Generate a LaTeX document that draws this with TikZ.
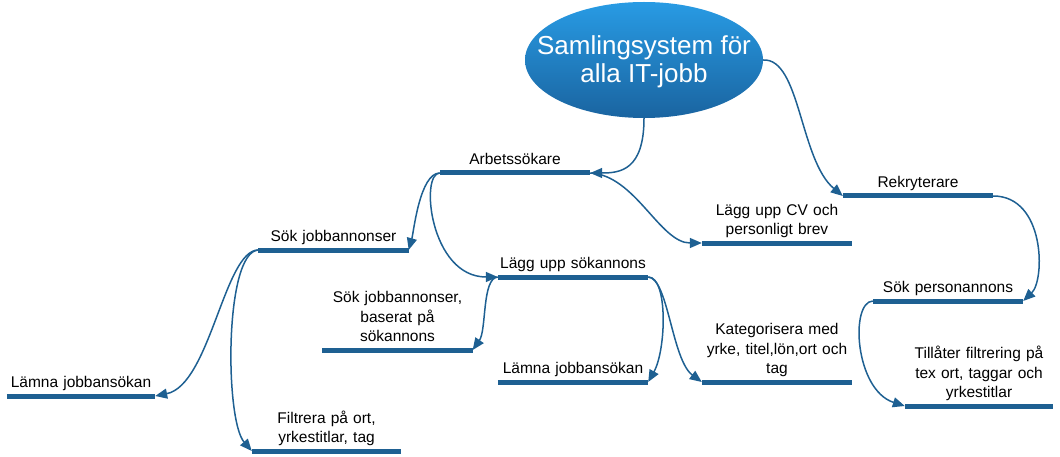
\documentclass[tikz,border=0pt]{standalone}
\usepackage{fontspec}
\setmainfont{Liberation Sans}
\usetikzlibrary{arrows.meta,shapes.geometric}
\definecolor{barblue}{RGB}{30,96,146}
\definecolor{elltop}{RGB}{40,155,228}
\definecolor{ellbot}{RGB}{26,100,160}
\tikzset{
  topic/.style={anchor=south, text width=150pt, align=center, inner xsep=0pt,
    inner ysep=0pt, text=black,
    execute at end node={\rule[-8pt]{0pt}{8pt}},
    font=\fontsize{15.5}{19.7}\selectfont},
  bar/.style={draw=barblue, line width=5pt},
  conn/.style={draw=barblue, line width=1.5pt, -{Triangle[length=12pt,width=10pt]}},
}
\begin{document}
\begin{tikzpicture}[x=1pt,y=-1pt]
\useasboundingbox (0,0) rectangle (1060,457);
\node[ellipse, minimum width=238pt, minimum height=116pt, inner sep=0pt,
  top color=elltop, bottom color=ellbot] (root) at (644,60) {};
\node[text=white, align=center, inner sep=0pt,
  font=\fontsize{26}{28.5}\selectfont] (roottxt) at (644,62) {Samlingsystem för\\alla IT-jobb};

\node[topic] (arb) at (515,173) {Arbetssökare};
\node[topic] (rek) at (918,196) {Rekryterare};
\node[topic] (cv) at (777,243) {Lägg upp CV och\\personligt brev};
\node[topic] (sokj) at (333.5,250) {Sök jobbannonser};
\node[topic] (lsok) at (573,277) {Lägg upp sökannons};
\node[topic] (sokp) at (948,301) {Sök personannons};
\node[topic] (bas) at (397.5,350) {Sök jobbannonser,\\baserat på\\sökannons};
\node[topic] (lamm) at (573,382) {Lämna jobbansökan};
\node[topic] (kat) at (777,382) {Kategorisera med\\yrke, titel,lön,ort och\\tag};
\node[topic, text width=148pt] (till) at (979,406) {Tillåter filtrering på\\tex ort, taggar och\\yrkestitlar};
\node[topic, text width=148pt] (laml) at (81,396) {Lämna jobbansökan};
\node[topic, text width=149pt] (filt) at (326.5,451) {Filtrera på ort,\\yrkestitlar, tag};

\foreach \n in {arb,rek,cv,sokj,lsok,sokp,bas,lamm,kat,till,laml,filt}
  \draw[bar] (\n.south west) -- (\n.south east);

\draw[conn] (root.south) .. controls +(0,52) and +(30,0) .. (arb.south east);
\draw[conn] (root.east) .. controls +(37,-2) and +(-43,-36) .. (rek.south west);
\draw[conn] (arb.south east) .. controls +(45,2) and +(-42,0) .. (cv.south west);
\draw[conn] (arb.south west) .. controls +(-20,0) and +(5,-18) .. (sokj.south east);
\draw[conn] (arb.south west) .. controls +(-20,0) and +(-68,0) .. (lsok.south west);
\draw[conn] (sokj.south west) .. controls +(-34,0) and +(55,-11) .. (laml.south east);
\draw[conn] (sokj.south west) .. controls +(-34,2) and +(-27,-31) .. (filt.south west);
\draw[conn] (lsok.south west) .. controls +(-16,1) and +(14,-20) .. (bas.south east);
\draw[conn] (lsok.south east) .. controls +(20,0) and +(18,-32) .. (lamm.south east);
\draw[conn] (lsok.south east) .. controls +(20,1) and +(-30,-22) .. (kat.south west);
\draw[conn] (rek.south east) .. controls +(52,0) and +(22,-21) .. (sokp.south east);
\draw[conn] (sokp.south west) .. controls +(-23,1) and +(-50,-16) .. (till.south west);
\end{tikzpicture}
\end{document}
